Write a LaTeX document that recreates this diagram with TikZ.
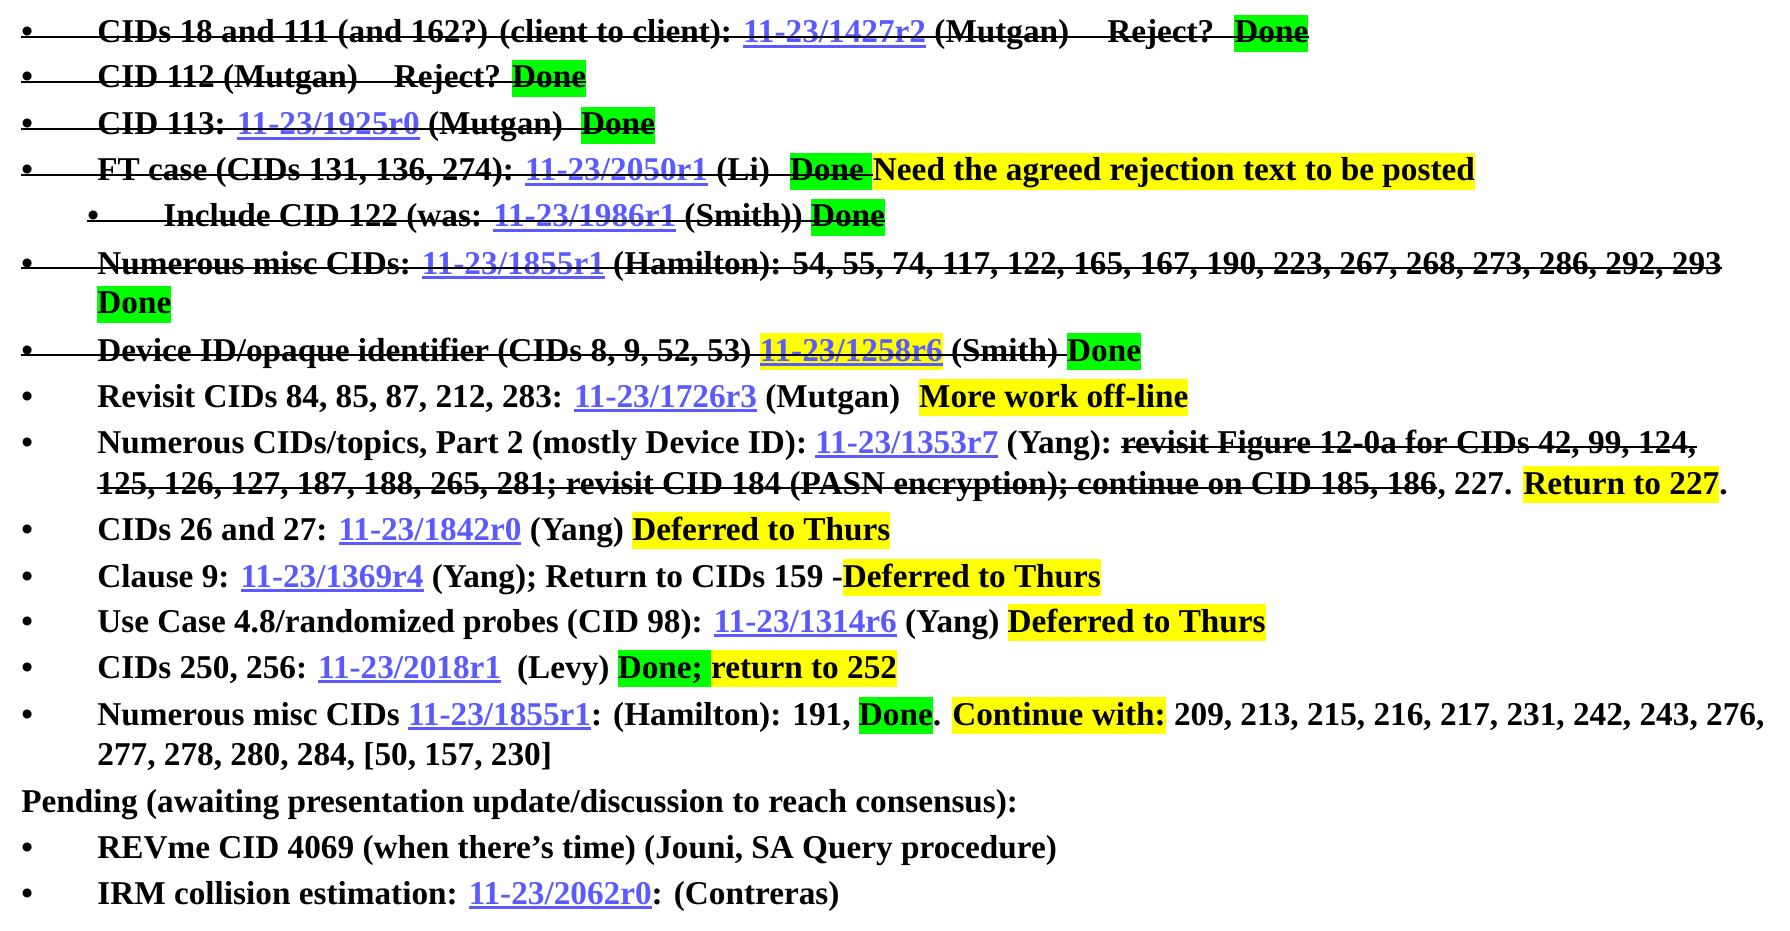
\documentclass[tikz,border=0pt]{standalone}
\usepackage{fontspec}
\setmainfont{Liberation Serif}
\usepackage{xcolor}
\usetikzlibrary{positioning}

\definecolor{linkblue}{RGB}{90,90,255}
\definecolor{hlgreen}{RGB}{0,255,0}
\definecolor{hlyellow}{RGB}{255,255,0}

\newcommand\hstrut{\rule[-4.5pt]{0pt}{18.5pt}}
\newcommand\hlg[1]{{\fboxsep=0pt\colorbox{hlgreen}{\hstrut#1}}}
\newcommand\hly[1]{{\fboxsep=0pt\colorbox{hlyellow}{\hstrut#1}}}
\newcommand\lnk[1]{{\color{linkblue}\setbox0=\hbox{#1}\rlap{\rule[-2.3pt]{\wd0}{1.3pt}}\box0}}

\tikzset{
    txt/.style={anchor=base west, inner sep=0pt, font=\fontsize{16.63}{18}\selectfont\bfseries},
    strike/.style={line width=1pt},
}

\begin{document}
\begin{tikzpicture}[x=0.5pt, y=-0.5pt]
        \useasboundingbox (0, 0) rectangle (1790, 931);

        % Item 1
        \node[txt] (b1) at (21, 43) {•};
        \node[txt] (t1) at (97, 43) {CIDs 18 and 111 (and 162?) (client to client): \lnk{11-23/1427r2} (Mutgan)\hspace{19pt}Reject?\hspace{10pt}\hlg{Done}};
        \draw[strike] ([yshift=3.2pt]b1.base west) -- ([yshift=3.2pt]t1.base east);

        % Item 2
        \node[txt] (b2) at (21, 88) {•};
        \node[txt] (t2) at (97, 88) {CID 112 (Mutgan)\hspace{18pt}Reject? \hlg{Done}};
        \draw[strike] ([yshift=3.2pt]b2.base west) -- ([yshift=3.2pt]t2.base east);

        % Item 3
        \node[txt] (b3) at (21, 135) {•};
        \node[txt] (t3) at (97, 135) {CID 113: \lnk{11-23/1925r0} (Mutgan)\hspace{9pt}\hlg{Done}};
        \draw[strike] ([yshift=3.2pt]b3.base west) -- ([yshift=3.2pt]t3.base east);

        % Item 4
        \node[txt] (b4) at (21, 181) {•};
        \node[txt] (t4a) at (97, 181) {FT case (CIDs 131, 136, 274): \lnk{11-23/2050r1} (Li)\hspace{10pt}\hlg{Done }};
        \node[txt] (t4b) at (t4a.base east) {\hly{Need the agreed rejection text to be posted}};
        \draw[strike] ([yshift=3.2pt]b4.base west) -- ([yshift=3.2pt]t4a.base east);

        % Item 4, sub item
        \node[txt] (b5) at (87, 227) {•};
        \node[txt] (t5) at (163, 227) {Include CID 122 (was: \lnk{11-23/1986r1} (Smith)) \hlg{Done}};
        \draw[strike] ([yshift=3.2pt]b5.base west) -- ([yshift=3.2pt]t5.base east);

        % Item 5
        \node[txt] (b6) at (21, 274) {•};
        \node[txt] (t6) at (97, 274) {Numerous misc CIDs: \lnk{11-23/1855r1} (Hamilton): 54, 55, 74, 117, 122, 165, 167, 190, 223, 267, 268, 273, 286, 292, 293};
        \node[txt] (t6b) at (97, 314) {\hlg{Done}};
        \draw[strike] ([yshift=3.2pt]b6.base west) -- ([yshift=3.2pt]t6.base east);

        % Item 6
        \node[txt] (b7) at (21, 361) {•};
        \node[txt] (t7a) at (97, 361) {Device ID/opaque identifier (CIDs 8, 9, 52, 53) \hly{\lnk{11-23/1258r6}} (Smith)};
        \node[txt] (t7b) at ([xshift=4.1pt]t7a.base east) {\hlg{Done}};
        \draw[strike] ([yshift=3.2pt]b7.base west) -- ([yshift=3.2pt]t7b.base west);

        % Item 7
        \node[txt] (b8) at (21, 407) {•};
        \node[txt] (t8) at (97, 407) {Revisit CIDs 84, 85, 87, 212, 283: \lnk{11-23/1726r3} (Mutgan)\hspace{9.5pt}\hly{More work off-line}};

        % Item 8
        \node[txt] (b9) at (21, 453) {•};
        \node[txt] (t9a) at (97, 453) {Numerous CIDs/topics, Part 2 (mostly Device ID): \lnk{11-23/1353r7} (Yang):};
        \node[txt] (t9b) at ([xshift=4.1pt]t9a.base east) {revisit Figure 12-0a for CIDs 42, 99, 124,};
        \node[txt] (t9c) at (97, 494) {125, 126, 127, 187, 188, 265, 281; revisit CID 184 (PASN encryption); continue on CID 185, 186};
        \node[txt] (t9d) at (t9c.base east) {, 227. \hly{Return to 227}.};
        \draw[strike] ([yshift=3.2pt]t9b.base west) -- ([yshift=3.2pt]t9b.base east);
        \draw[strike] ([yshift=3.2pt]t9c.base west) -- ([yshift=3.2pt]t9c.base east);

        % Item 9
        \node[txt] (b10) at (21, 540) {•};
        \node[txt] (t10) at (97, 540) {CIDs 26 and 27: \lnk{11-23/1842r0} (Yang) \hly{Deferred to Thurs}};

        % Item 10
        \node[txt] (b11) at (21, 587) {•};
        \node[txt] (t11) at (97, 587) {Clause 9: \lnk{11-23/1369r4} (Yang); Return to CIDs 159 -\hly{Deferred to Thurs}};

        % Item 11
        \node[txt] (b12) at (21, 632) {•};
        \node[txt] (t12) at (97, 632) {Use Case 4.8/randomized probes (CID 98): \lnk{11-23/1314r6} (Yang) \hly{Deferred to Thurs}};

        % Item 12
        \node[txt] (b13) at (21, 678) {•};
        \node[txt] (t13) at (97, 678) {CIDs 250, 256: \lnk{11-23/2018r1}\hspace{8pt}(Levy) \hlg{Done; }\hly{return to 252}};

        % Item 13
        \node[txt] (b14) at (21, 725) {•};
        \node[txt] (t14) at (97, 725) {Numerous misc CIDs \lnk{11-23/1855r1}: (Hamilton): 191, \hlg{Done}. \hly{Continue with:} 209, 213, 215, 216, 217, 231, 242, 243, 276,};
        \node[txt] (t14b) at (97, 765) {277, 278, 280, 284, [50, 157, 230]};

        % Pending
        \node[txt] (p0) at (21, 812) {Pending (awaiting presentation update/discussion to reach consensus):};
        \node[txt] (b16) at (21, 858) {•};
        \node[txt] (t16) at (97, 858) {REVme CID 4069 (when there’s time) (Jouni, SA Query procedure)};
        \node[txt] (b17) at (21, 904) {•};
        \node[txt] (t17) at (97, 904) {IRM collision estimation: \lnk{11-23/2062r0}: (Contreras)};
\end{tikzpicture}
\end{document}
